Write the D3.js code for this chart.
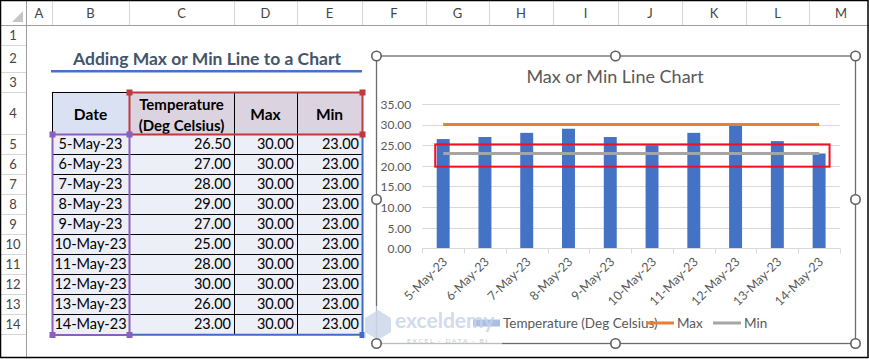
<!DOCTYPE html>
<html><head><meta charset="utf-8">
<script src="https://cdn.jsdelivr.net/npm/d3@7"></script>
<style>
html,body{margin:0;padding:0;background:#fff;}
svg{display:block;font-family:Lato,"Open Sans",sans-serif;}
</style>
</head><body>
<svg id="c" width="869" height="359"></svg>
<script>
// ---------- data ----------
const categories = ["5-May-23","6-May-23","7-May-23","8-May-23","9-May-23","10-May-23","11-May-23","12-May-23","13-May-23","14-May-23"];
const temperature = [26.5, 27, 28, 29, 27, 25, 28, 30, 26, 23];
const maxValues = [30, 30, 30, 30, 30, 30, 30, 30, 30, 30];
const minValues = [23, 23, 23, 23, 23, 23, 23, 23, 23, 23];
const yTickValues = [0, 5, 10, 15, 20, 25, 30, 35];
const seriesNames = ["Temperature (Deg Celsius)", "Max", "Min"];
const tableHeaders = ["Date", ["Temperature", "(Deg Celsius)"], "Max", "Min"];
const columnLetters = ["A","B","C","D","E","F","G","H","I","J","K","L","M"];
const rowNumbers = [1,2,3,4,5,6,7,8,9,10,11,12,13,14];
const sheetTitle = "Adding Max or Min Line to a Chart";
const chartTitle = "Max or Min Line Chart";
const highlightRange = [19.8, 25.2];

// ---------- layout ----------
const svg = d3.select("#c");
const W = 869, H = 359;
const colEdges = [0, 26, 52, 129, 234, 297, 362, 426, 489, 553, 618, 682, 746, 809, 873];
const rowEdges = [0, 25, 45, 72, 92, 134];
for (let i = 5; i <= 14; i++) rowEdges.push(134 + 20 * (i - 4));

const colors = { bar: "#4472C4", max: "#ED7D31", min: "#A5A5A5", text: "#595959", grid: "#D9D9D9" };

svg.append("rect").attr("width", W).attr("height", H).attr("fill", "#fff");

// header row / row header
const hdr = svg.append("g");
columnLetters.forEach((L, i) => {
  const x0 = colEdges[i + 1], x1 = colEdges[i + 2];
  hdr.append("line").attr("x1", x1 + 0.5).attr("x2", x1 + 0.5).attr("y1", 0).attr("y2", 25).attr("stroke", "#d6d6d6");
  hdr.append("text").attr("x", (x0 + x1) / 2).attr("y", 17.5).attr("text-anchor", "middle")
    .attr("font-size", 13).attr("fill", "#444").text(L);
});
rowNumbers.forEach((r) => {
  const y0 = rowEdges[r], y1 = rowEdges[r + 1];
  hdr.append("line").attr("x1", 0).attr("x2", 26).attr("y1", y1 + 0.5).attr("y2", y1 + 0.5).attr("stroke", "#d6d6d6");
  hdr.append("text").attr("x", 13).attr("y", (y0 + y1) / 2 + 4.5).attr("text-anchor", "middle")
    .attr("font-size", 13).attr("fill", "#444").text(r);
});
hdr.append("line").attr("x1", 0).attr("x2", W).attr("y1", 25.5).attr("y2", 25.5).attr("stroke", "#9e9e9e");
hdr.append("line").attr("x1", 26.5).attr("x2", 26.5).attr("y1", 0).attr("y2", H).attr("stroke", "#9e9e9e");
hdr.append("path").attr("d", "M23,11 L23,22 L12,22 Z").attr("fill", "#c6c6c6");

// sheet title
svg.append("text").attr("x", 207).attr("y", 65).attr("text-anchor", "middle")
  .attr("font-size", 17.5).attr("font-weight", 700).attr("fill", "#44546A").text(sheetTitle);
svg.append("line").attr("x1", 51).attr("x2", 362).attr("y1", 71.3).attr("y2", 71.3)
  .attr("stroke", "#4472C4").attr("stroke-width", 2.6);

// ---------- table ----------
const tbl = svg.append("g");
const fmt = d3.format(".2f");
const tcols = [2, 3, 4, 5];
const cx = (c) => colEdges[tcols[c]];
const cx1 = (c) => colEdges[tcols[c] + 1];
tbl.append("rect").attr("x", cx(0)).attr("y", rowEdges[4]).attr("width", cx1(0) - cx(0)).attr("height", rowEdges[5] - rowEdges[4]).attr("fill", "#DAE1F3");
tbl.append("rect").attr("x", cx(1)).attr("y", rowEdges[4]).attr("width", cx1(3) - cx(1)).attr("height", rowEdges[5] - rowEdges[4]).attr("fill", "#DBD3E0");
tbl.append("rect").attr("x", cx(0)).attr("y", rowEdges[5]).attr("width", cx1(3) - cx(0)).attr("height", rowEdges[15] - rowEdges[5]).attr("fill", "#ECEEF8");
for (let r = 4; r <= 15; r++) {
  tbl.append("line").attr("x1", cx(0)).attr("x2", cx1(3)).attr("y1", rowEdges[r] + 0.5).attr("y2", rowEdges[r] + 0.5).attr("stroke", "#000");
}
for (let c = 0; c <= 4; c++) {
  const x = c < 4 ? cx(c) : cx1(3);
  tbl.append("line").attr("x1", x + 0.5).attr("x2", x + 0.5).attr("y1", rowEdges[4]).attr("y2", rowEdges[15]).attr("stroke", "#000");
}
tableHeaders.forEach((h, c) => {
  const xm = (cx(c) + cx1(c)) / 2;
  if (Array.isArray(h)) {
    h.forEach((line, k) => tbl.append("text").attr("x", xm).attr("y", 110 + k * 20.5).attr("text-anchor", "middle")
      .attr("font-size", 15).attr("font-weight", 700).attr("fill", "#000").text(line));
  } else {
    tbl.append("text").attr("x", xm).attr("y", 120).attr("text-anchor", "middle")
      .attr("font-size", 15.5).attr("font-weight", 700).attr("fill", "#000").text(h);
  }
});
categories.forEach((d, i) => {
  const yb = rowEdges[5 + i + 1] - 5;
  tbl.append("text").attr("x", (cx(0) + cx1(0)) / 2).attr("y", yb).attr("text-anchor", "middle").attr("font-size", 14.5).attr("fill", "#000").text(d);
  [temperature[i], maxValues[i], minValues[i]].forEach((v, k) => {
    tbl.append("text").attr("x", cx1(k + 1) - 3).attr("y", yb).attr("text-anchor", "end").attr("font-size", 14.5).attr("fill", "#000").text(fmt(v));
  });
});
const hl = svg.append("g");
hl.append("path").attr("d", `M${cx(1)+0.5},${rowEdges[5]+0.5} V${rowEdges[4]+0.5} H${cx1(3)+0.5} V${rowEdges[5]+0.5} H${cx(1)}`)
  .attr("fill", "none").attr("stroke", "#C0393F").attr("stroke-width", 2);
hl.append("path").attr("d", `M${cx(1)+0.5},${rowEdges[15]+0.8} H${cx1(3)+0.5} V${rowEdges[5]+0.5}`)
  .attr("fill", "none").attr("stroke", "#3E6CC6").attr("stroke-width", 2);
hl.append("rect").attr("x", cx(0) + 0.5).attr("y", rowEdges[5] + 0.5).attr("width", cx1(0) - cx(0)).attr("height", rowEdges[15] - rowEdges[5] + 0.5)
  .attr("fill", "none").attr("stroke", "#8A5FC0").attr("stroke-width", 2);
[[cx(1), rowEdges[4], "#C0393F"], [cx1(3), rowEdges[4], "#C0393F"], [cx1(3), rowEdges[5], "#C0393F"],
 [cx(0), rowEdges[5], "#8A5FC0"], [cx1(0), rowEdges[5], "#8A5FC0"], [cx(0), rowEdges[15] + 0.5, "#8A5FC0"], [cx1(0), rowEdges[15] + 0.5, "#8A5FC0"],
 [cx1(3), rowEdges[15] + 0.5, "#3E6CC6"]].forEach(([x, y, c]) => {
  hl.append("rect").attr("x", x - 2.5).attr("y", y - 2.5).attr("width", 6).attr("height", 6).attr("fill", c);
});

// ---------- chart ----------
const frame = { x0: 376.5, y0: 56, x1: 855.5, y1: 343.5 };
const chart = svg.append("g");
chart.append("rect").attr("x", frame.x0).attr("y", frame.y0).attr("width", frame.x1 - frame.x0).attr("height", frame.y1 - frame.y0)
  .attr("fill", "#fff").attr("stroke", "#6b6b6b").attr("stroke-width", 1.3);
chart.append("text").attr("x", 615).attr("y", 83).attr("text-anchor", "middle").attr("font-size", 18)
  .attr("fill", colors.text).text(chartTitle);

const x = d3.scaleBand().domain(categories).range([422.3, 840]).paddingInner(0).paddingOuter(0);
const y = d3.scaleLinear().domain([0, 35]).range([248.3, 104]);
const bw = x.bandwidth() * 0.31;

chart.append("g").selectAll("line").data(yTickValues.filter(v => v > 0)).join("line")
  .attr("x1", x.range()[0]).attr("x2", x.range()[1])
  .attr("y1", d => Math.round(y(d)) + 0.5).attr("y2", d => Math.round(y(d)) + 0.5)
  .attr("stroke", colors.grid);

const yAxis = chart.append("g").attr("transform", `translate(${x.range()[0]},0)`)
  .call(d3.axisLeft(y).tickValues(yTickValues).tickFormat(d3.format(".2f")).tickSize(0).tickPadding(11));
yAxis.select(".domain").remove();
yAxis.selectAll("text").attr("font-family", "Lato").attr("font-size", 12).attr("fill", colors.text).attr("dy", "0.36em");

chart.append("g").selectAll("rect").data(temperature).join("rect")
  .attr("x", (d, i) => x(categories[i]) + (x.bandwidth() - bw) / 2)
  .attr("width", bw)
  .attr("y", d => y(d)).attr("height", d => y(0) - y(d))
  .attr("fill", colors.bar);

const x0 = Math.round(y(0)) + 0.5;
chart.append("line").attr("x1", x.range()[0]).attr("x2", x.range()[1]).attr("y1", x0).attr("y2", x0).attr("stroke", colors.grid);
const bounds = categories.map(c => x(c)).concat([x.range()[1]]);
chart.append("g").selectAll("line").data(bounds).join("line")
  .attr("x1", d => Math.round(d) + 0.5).attr("x2", d => Math.round(d) + 0.5)
  .attr("y1", x0).attr("y2", x0 + 5).attr("stroke", colors.grid);

const xAxis = chart.append("g").attr("transform", `translate(0,${x0})`)
  .call(d3.axisBottom(x).tickSize(0).tickPadding(0));
xAxis.select(".domain").remove();
xAxis.selectAll("text")
  .attr("font-family", "Lato").attr("font-size", 12.5).attr("fill", colors.text)
  .attr("text-anchor", "end").attr("dy", 0).attr("y", 0)
  .attr("transform", "translate(5,14) rotate(-45)");

const line = d3.line().x((d, i) => x(categories[i]) + x.bandwidth() / 2).y(d => y(d));
chart.append("path").datum(maxValues).attr("d", line).attr("fill", "none").attr("stroke", colors.max).attr("stroke-width", 3);
chart.append("path").datum(minValues).attr("d", line).attr("fill", "none").attr("stroke", colors.min).attr("stroke-width", 3);

chart.append("rect")
  .attr("x", x(categories[0]) + x.bandwidth() * 0.31)
  .attr("y", y(highlightRange[1]))
  .attr("width", (x(categories[categories.length - 1]) + x.bandwidth() * 0.75) - (x(categories[0]) + x.bandwidth() * 0.31))
  .attr("height", y(highlightRange[0]) - y(highlightRange[1]))
  .attr("fill", "none").attr("stroke", "#EE1126").attr("stroke-width", 2);

const lg = chart.append("g").attr("font-family", "Lato").attr("font-size", 13.5).attr("fill", colors.text);
const ly = 323;
lg.append("rect").attr("x", 473).attr("y", ly - 3.5).attr("width", 27).attr("height", 7).attr("fill", colors.bar);
lg.append("text").attr("x", 503).attr("y", ly + 4.6).text(seriesNames[0]);
lg.append("line").attr("x1", 647).attr("x2", 674).attr("y1", ly).attr("y2", ly).attr("stroke", colors.max).attr("stroke-width", 3);
lg.append("text").attr("x", 677).attr("y", ly + 4.6).text(seriesNames[1]);
lg.append("line").attr("x1", 713).attr("x2", 741).attr("y1", ly).attr("y2", ly).attr("stroke", colors.min).attr("stroke-width", 3);
lg.append("text").attr("x", 744).attr("y", ly + 4.6).text(seriesNames[2]);

const wm = svg.append("g");
wm.append("rect").attr("x", 364).attr("y", 306).attr("width", 138).attr("height", 40).attr("fill", "#fff").attr("opacity", 0.55);
wm.append("path").attr("d", "M365,318 L378,310 L391,318 L391,332 L378,340 L365,332 Z").attr("fill", "#c9d5ea").attr("opacity", 0.8);
wm.append("text").attr("x", 395).attr("y", 328).attr("font-size", 21).attr("font-weight", 700).attr("fill", "#c7d3ea").attr("opacity", 0.8).text("exceldemy");
wm.append("text").attr("x", 407).attr("y", 343).attr("font-size", 6.5).attr("letter-spacing", 1.8).attr("fill", "#c3c9d6").text("EXCEL · DATA · BI");

const hx = [frame.x0, 615.5, frame.x1], hy = [frame.y0, 199.5, frame.y1];
const handles = [];
hx.forEach(a => hy.forEach(b => { if (!(a === 615.5 && b === 199.5)) handles.push([a, b]); }));
svg.append("g").selectAll("circle").data(handles).join("circle")
  .attr("cx", d => d[0]).attr("cy", d => d[1]).attr("r", 4.7)
  .attr("fill", "#fff").attr("stroke", "#5f5f5f").attr("stroke-width", 1.6);

svg.append("rect").attr("x", 0.5).attr("y", 0.5).attr("width", 867.5).attr("height", 357).attr("fill", "none").attr("stroke", "#000").attr("stroke-width", 1.5);
</script>
</body></html>
